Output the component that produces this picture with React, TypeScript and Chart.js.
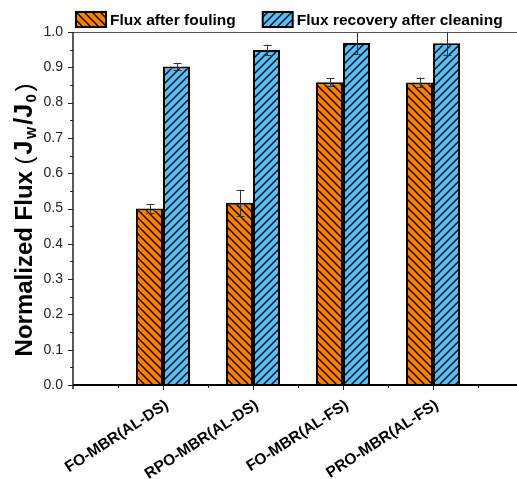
import React, { useEffect, useRef } from 'react';
import { Chart, registerables } from 'chart.js';

Chart.register(...registerables);

const FAM = '"Liberation Sans", Arial, Helvetica, sans-serif';

// ---- data ----
const categories = ['', 'FO-MBR(AL-DS)', 'RPO-MBR(AL-DS)', 'FO-MBR(AL-FS)', 'PRO-MBR(AL-FS)', ''];
const foulingValues = [null, 0.5, 0.516, 0.858, 0.857, null];
const foulingErrors = [null, 0.012, 0.037, 0.012, 0.014, null];
const recoveryValues = [null, 0.902, 0.949, 0.969, 0.968, null];
const recoveryErrors = [null, 0.011, 0.015, 0.032, 0.033, null];
const seriesNames = ['Flux after fouling', 'Flux recovery after cleaning'];
const yMin = 0;
const yMax = 1.0;
const yStep = 0.1;

const ORANGE = '#FF8000';
const BLUE = '#58BEF7';

function makeHatch(ctx: CanvasRenderingContext2D, color: string, forward: boolean) {
  const s = 8;
  const c = document.createElement('canvas');
  c.width = s;
  c.height = s;
  const g = c.getContext('2d')!;
  g.fillStyle = color;
  g.fillRect(0, 0, s, s);
  g.strokeStyle = '#000';
  g.lineWidth = 1.3;
  g.beginPath();
  if (forward) {
    g.moveTo(-1, s + 1); g.lineTo(s + 1, -1);
    g.moveTo(-1, 1); g.lineTo(1, -1);
    g.moveTo(s - 1, s + 1); g.lineTo(s + 1, s - 1);
  } else {
    g.moveTo(-1, -1); g.lineTo(s + 1, s + 1);
    g.moveTo(s - 1, -1); g.lineTo(s + 1, 1);
    g.moveTo(-1, s - 1); g.lineTo(1, s + 1);
  }
  g.stroke();
  return ctx.createPattern(c, 'repeat') as CanvasPattern;
}

const errorBarPlugin = {
  id: 'errorBars',
  afterDatasetsDraw(chart: any) {
    const ctx = chart.ctx as CanvasRenderingContext2D;
    const y = chart.scales.y;
    const area = chart.chartArea;
    const errs = [foulingErrors, recoveryErrors];
    ctx.save();
    ctx.beginPath();
    ctx.rect(area.left, area.top - 0.5, area.right - area.left, area.bottom - area.top + 1);
    ctx.clip();
    ctx.strokeStyle = '#333';
    ctx.lineWidth = 1;
    chart.data.datasets.forEach((ds: any, di: number) => {
      const meta = chart.getDatasetMeta(di);
      meta.data.forEach((el: any, i: number) => {
        const v = ds.data[i];
        const e = errs[di][i];
        if (v == null || e == null) return;
        const x = Math.round(el.x) + 0.5;
        const yt = y.getPixelForValue(v + e);
        const yb = y.getPixelForValue(v - e);
        ctx.beginPath();
        ctx.moveTo(x, yt); ctx.lineTo(x, yb);
        ctx.moveTo(x - 4, Math.round(yt) + 0.5); ctx.lineTo(x + 4, Math.round(yt) + 0.5);
        ctx.moveTo(x - 4, Math.round(yb) + 0.5); ctx.lineTo(x + 4, Math.round(yb) + 0.5);
        ctx.stroke();
      });
    });
    ctx.restore();
  },
};

const framePlugin = {
  id: 'frame',
  afterDraw(chart: any) {
    const ctx = chart.ctx as CanvasRenderingContext2D;
    const { left, right, top, bottom } = chart.chartArea;
    const xs = chart.scales.x;
    const ys = chart.scales.y;
    ctx.save();
    // top line
    ctx.strokeStyle = '#555';
    ctx.lineWidth = 1;
    ctx.beginPath();
    ctx.moveTo(left, Math.round(top) + 0.5);
    ctx.lineTo(right, Math.round(top) + 0.5);
    ctx.stroke();
    // axes
    ctx.strokeStyle = '#222';
    ctx.lineWidth = 1.5;
    ctx.beginPath();
    ctx.moveTo(left, top);
    ctx.lineTo(left, bottom + 4);
    ctx.stroke();
    ctx.strokeStyle = '#000';
    ctx.lineWidth = 2;
    ctx.beginPath();
    ctx.moveTo(left, bottom);
    ctx.lineTo(right, bottom);
    ctx.stroke();
    ctx.strokeStyle = '#222';
    ctx.lineWidth = 1;
    ctx.beginPath();
    // y ticks
    const nY = Math.round((yMax - yMin) / yStep);
    for (let k = 0; k <= nY; k++) {
      const py = Math.round(ys.getPixelForValue(yMin + k * yStep)) + 0.5;
      ctx.moveTo(left - 5, py); ctx.lineTo(left, py);
      if (k < nY) {
        const pm = Math.round(ys.getPixelForValue(yMin + (k + 0.5) * yStep)) + 0.5;
        ctx.moveTo(left - 3, pm); ctx.lineTo(left, pm);
      }
    }
    // x ticks
    for (let i = 1; i < categories.length; i++) {
      const p0 = xs.getPixelForValue(i - 1);
      const p1 = xs.getPixelForValue(i);
      const pm = Math.round((p0 + p1) / 2) + 0.5;
      ctx.moveTo(pm, bottom); ctx.lineTo(pm, bottom + 3);
      if (i < categories.length - 1) {
        const px = Math.round(p1) + 0.5;
        ctx.moveTo(px, bottom); ctx.lineTo(px, bottom + 5);
      }
    }
    ctx.stroke();
    ctx.restore();
  },
};

const legendPlugin = {
  id: 'customLegend',
  afterDraw(chart: any) {
    const ctx = chart.ctx as CanvasRenderingContext2D;
    ctx.save();
    ctx.font = `bold 15.5px ${FAM}`;
    ctx.textBaseline = 'alphabetic';
    ctx.textAlign = 'left';
    let x = 76;
    chart.data.datasets.forEach((ds: any, i: number) => {
      ctx.fillStyle = ds.backgroundColor;
      ctx.fillRect(x, 12, 30, 15);
      ctx.strokeStyle = '#000';
      ctx.lineWidth = 2;
      ctx.strokeRect(x, 12, 30, 15);
      ctx.fillStyle = '#000';
      ctx.fillText(seriesNames[i], x + 34, 25);
      x += 34 + ctx.measureText(seriesNames[i]).width + 27;
    });
    ctx.restore();
  },
};

const yTitlePlugin = {
  id: 'yTitle',
  afterDraw(chart: any) {
    const ctx = chart.ctx as CanvasRenderingContext2D;
    const parts = [
      { t: 'Normalized Flux ', f: `bold 24px ${FAM}`, dy: 0, gap: 0 },
      { t: '(', f: `24px ${FAM}`, dy: 0, gap: 2 },
      { t: 'J', f: `bold 25px ${FAM}`, dy: 0, gap: 1.5 },
      { t: 'W', f: `bold 13px ${FAM}`, dy: 4, gap: 2 },
      { t: '/J', f: `bold 25px ${FAM}`, dy: 0, gap: 1.5 },
      { t: '0', f: `bold 15px ${FAM}`, dy: 4, gap: 2.5 },
      { t: ')', f: `24px ${FAM}`, dy: 0, gap: 0 },
    ];
    ctx.save();
    let total = 0;
    const widths = parts.map((p) => {
      ctx.font = p.f;
      const w = ctx.measureText(p.t).width + p.gap;
      total += w;
      return w;
    });
    ctx.translate(32, 220);
    ctx.rotate(-Math.PI / 2);
    ctx.fillStyle = '#000';
    ctx.textAlign = 'left';
    ctx.textBaseline = 'alphabetic';
    let x = -total / 2;
    parts.forEach((p, i) => {
      ctx.font = p.f;
      ctx.fillText(p.t, x, p.dy);
      x += widths[i];
    });
    ctx.restore();
  },
};

export default function App() {
  const ref = useRef<HTMLCanvasElement | null>(null);
  useEffect(() => {
    const canvas = ref.current!;
    const ctx = canvas.getContext('2d')!;
    const orangeHatch = makeHatch(ctx, ORANGE, false);
    const blueHatch = makeHatch(ctx, BLUE, true);
    const chart = new Chart(canvas, {
      type: 'bar',
      data: {
        labels: categories,
        datasets: [
          {
            label: seriesNames[0],
            data: foulingValues as any,
            backgroundColor: orangeHatch as any,
            borderColor: '#000',
            borderWidth: 2,
            categoryPercentage: 0.6,
            barPercentage: 1,
          },
          {
            label: seriesNames[1],
            data: recoveryValues as any,
            backgroundColor: blueHatch as any,
            borderColor: '#000',
            borderWidth: 2,
            categoryPercentage: 0.6,
            barPercentage: 1,
          },
        ],
      },
      options: {
        responsive: false,
        animation: false,
        devicePixelRatio: 1,
        layout: { padding: { top: 32, right: 17, left: 0, bottom: 0 } },
        plugins: { legend: { display: false }, tooltip: { enabled: false } },
        scales: {
          x: {
            type: 'category',
            offset: false,
            grid: { display: false, drawTicks: false },
            border: { display: false },
            ticks: {
              autoSkip: false,
              maxRotation: 33,
              minRotation: 33,
              padding: 11,
              labelOffset: 4,
              color: '#000',
              font: { family: FAM, size: 15.5, weight: 'bold' },
            },
            afterFit: (s: any) => { s.height = 94; s.paddingLeft = 0; s.paddingRight = 0; },
          },
          y: {
            min: yMin,
            max: yMax,
            grid: { display: false, drawTicks: false },
            border: { display: false },
            ticks: {
              stepSize: yStep,
              padding: 10,
              color: '#222',
              font: { family: FAM, size: 14 },
              callback: (v: any) => Number(v).toFixed(1),
            },
            afterFit: (s: any) => { s.width = 73; },
          },
        },
      },
      plugins: [errorBarPlugin, framePlugin, legendPlugin, yTitlePlugin],
    });
    return () => chart.destroy();
  }, []);
  return (
    <div style={{ position: 'absolute', left: 0, top: 0, width: 517, height: 479, overflow: 'hidden', background: '#fff' }}>
      <canvas ref={ref} width={540} height={479} style={{ width: 540, height: 479, display: 'block' }} />
    </div>
  );
}
